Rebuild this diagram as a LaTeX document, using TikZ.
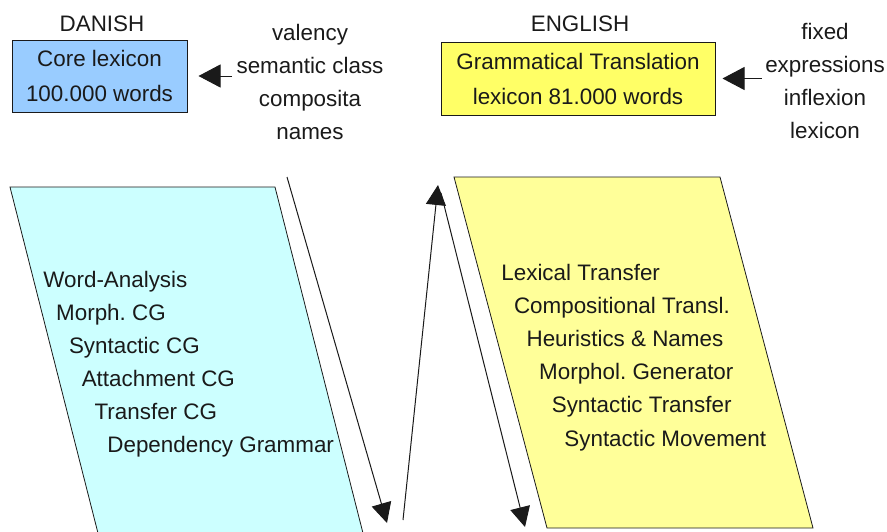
\documentclass[tikz,border=0pt]{standalone}
\usepackage{fontspec}
\setmainfont{Liberation Sans}
\usepackage{tikz}
\usetikzlibrary{positioning,arrows.meta}
\definecolor{lexblue}{HTML}{99CCFF}
\definecolor{lexyellow}{HTML}{FFFF66}
\definecolor{anacyan}{HTML}{CCFFFF}
\definecolor{genyellow}{HTML}{FFFF99}
\definecolor{inkdark}{HTML}{1A1A1A}
\frenchspacing

\begin{document}
\begin{tikzpicture}[
  x=0.5pt, y=-0.5pt,
  every node/.style={font=\fontsize{11.2}{16.5}\selectfont, text=inkdark},
  lexbox/.style={draw=inkdark, line width=0.5pt, inner sep=0pt, align=center},
  featlist/.style={align=center, inner sep=0pt},
  stage/.style={anchor=base west, inner sep=0pt},
  flowarrow/.style={draw=inkdark, line width=0.5pt, -{Triangle[length=10pt,width=10pt]}},
  feedarrow/.style={draw=inkdark, line width=0.5pt, -{Triangle[length=11pt,width=11.5pt]}},
]
\useasboundingbox (0,0) rectangle (887,531);

% lexica
\node[lexbox, fill=lexblue, minimum width=87.5pt, minimum height=36pt] (dancore) at (99.5,76)
  {Core lexicon\\[1pt]100.000 words};
\node[inner sep=0pt] (danlabel) at (102,24) {DANISH};
\node[lexbox, fill=lexyellow, minimum width=137pt, minimum height=36.5pt] (englex) at (578,78.5)
  {Grammatical Translation\\[1pt]lexicon 81.000 words};
\node[inner sep=0pt] (englabel) at (580,24) {ENGLISH};

\node[featlist] (danfeat) at (310,82) {valency\\semantic class\\composita\\names};
\node[featlist] (engfeat) at (825,81) {fixed\\expressions\\inflexion\\lexicon};

\draw[feedarrow] (danfeat.west |- dancore.east) ++(-4,0) coordinate (danfeed) -- ([xshift=5.5pt]dancore.east);
\draw[feedarrow] (engfeat.west |- englex.east) ++(-3,0) coordinate (engfeed) -- ([xshift=3.5pt]englex.east);

% analysis / generation blocks
\begin{scope}
  \clip (0,0) rectangle (887,531);
  \draw[fill=anacyan, draw=inkdark, line width=0.4pt]
    (10,187) -- (275,187) -- (366,545) -- (101,545) -- cycle;
\end{scope}
\draw[fill=genyellow, draw=inkdark, line width=0.4pt]
  (454,177) -- (720,177) -- (813,528) -- (547,528) -- cycle;

\foreach \i/\txt in {0/Word-Analysis, 1/Morph. CG, 2/Syntactic CG,
  3/Attachment CG, 4/Transfer CG, 5/Dependency Grammar} {
  \node[stage, name=ana\i] at (43+\i*12.8, 287+\i*33) {\txt};
}
\foreach \i/\txt in {0/Lexical Transfer, 1/Compositional Transl., 2/Heuristics \& Names,
  3/Morphol. Generator, 4/Syntactic Transfer, 5/Syntactic Movement} {
  \node[stage, name=gen\i] at (501+\i*12.6, 280+\i*33.2) {\txt};
}

% flow
\coordinate (anatop) at (287,177);
\coordinate (anabot) at (387,523);
\coordinate (upbot) at (403,520);
\coordinate (uptop) at (438,185);
\coordinate (gentop) at (441,193);
\coordinate (genbot) at (525,527);
\draw[flowarrow] (anatop) -- (anabot);
\draw[flowarrow] (upbot) -- (uptop);
\draw[flowarrow] (gentop) -- (genbot);
\end{tikzpicture}
\end{document}
